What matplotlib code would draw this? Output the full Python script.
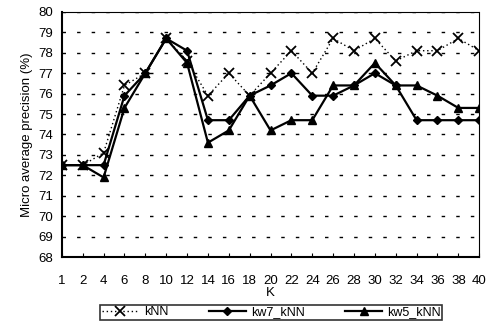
import numpy as np
import matplotlib.pyplot as plt

plt.rcParams['font.family'] = ['Liberation Sans', 'DejaVu Sans']

# K values (categorical axis)
k_labels = ['1', '2', '4', '6', '8', '10', '12', '14', '16', '18', '20',
            '22', '24', '26', '28', '30', '32', '34', '36', '38', '40']

knn = [72.5, 72.5, 73.1, 76.4, 77.0, 78.7, 77.6, 75.9, 77.0, 75.9, 77.0,
       78.1, 77.0, 78.7, 78.1, 78.7, 77.6, 78.1, 78.1, 78.7, 78.1]
kw7_knn = [72.5, 72.5, 72.5, 75.9, 77.0, 78.7, 78.1, 74.7, 74.7, 75.9, 76.4,
           77.0, 75.9, 75.9, 76.4, 77.0, 76.4, 74.7, 74.7, 74.7, 74.7]
kw5_knn = [72.5, 72.5, 71.9, 75.3, 77.0, 78.7, 77.5, 73.6, 74.2, 75.9, 74.2,
           74.7, 74.7, 76.4, 76.4, 77.5, 76.4, 76.4, 75.9, 75.3, 75.3]

x = np.arange(len(k_labels))

fig = plt.figure(figsize=(4.87, 3.21), dpi=100)
ax = fig.add_axes([0.127, 0.199, 0.857, 0.764])

ax.plot(x, knn, color='black', linestyle=(0, (1, 2)), linewidth=1.0,
        marker='x', markersize=6.5, markeredgewidth=1.3, label='kNN')
ax.plot(x, kw7_knn, color='black', linestyle='-', linewidth=1.6,
        marker='D', markersize=4.5, label='kw7_kNN')
ax.plot(x, kw5_knn, color='black', linestyle='-', linewidth=1.6,
        marker='^', markersize=5.5, label='kw5_kNN')

ax.set_xlim(0, len(k_labels) - 1)
ax.set_ylim(68, 80)
ax.set_xticks(x)
ax.set_xticklabels(k_labels)
ax.set_yticks(np.arange(68, 81, 1))
ax.tick_params(axis='x', direction='in', length=3, pad=13, labelsize=9.5)
ax.tick_params(axis='y', direction='in', length=0, pad=6, labelsize=9.5)

# horizontal dashed grid
ax.yaxis.grid(True, color='black', linestyle=(0, (2.5, 8)), linewidth=1.0)
ax.set_axisbelow(True)

ax.spines['left'].set_linewidth(1.5)
ax.spines['bottom'].set_linewidth(1.5)
ax.spines['top'].set_linewidth(0.8)
ax.spines['right'].set_linewidth(0.8)
ax.spines['top'].set_linestyle((0, (1, 1)))
ax.spines['right'].set_linestyle((0, (1, 1)))

ax.set_xlabel('K', fontsize=9.5, labelpad=0)
ax.set_ylabel('Micro average precision (%)', fontsize=9.5, labelpad=4)

leg = fig.legend(loc='center', bbox_to_anchor=(0.557, 0.027), ncol=3,
                 fontsize=9, frameon=True, fancybox=False, edgecolor='black',
                 handlelength=3.0, columnspacing=3.2, borderpad=0.1,
                 handletextpad=0.4)
leg.get_frame().set_linewidth(1.2)

fig.savefig('out.png', dpi=100)
